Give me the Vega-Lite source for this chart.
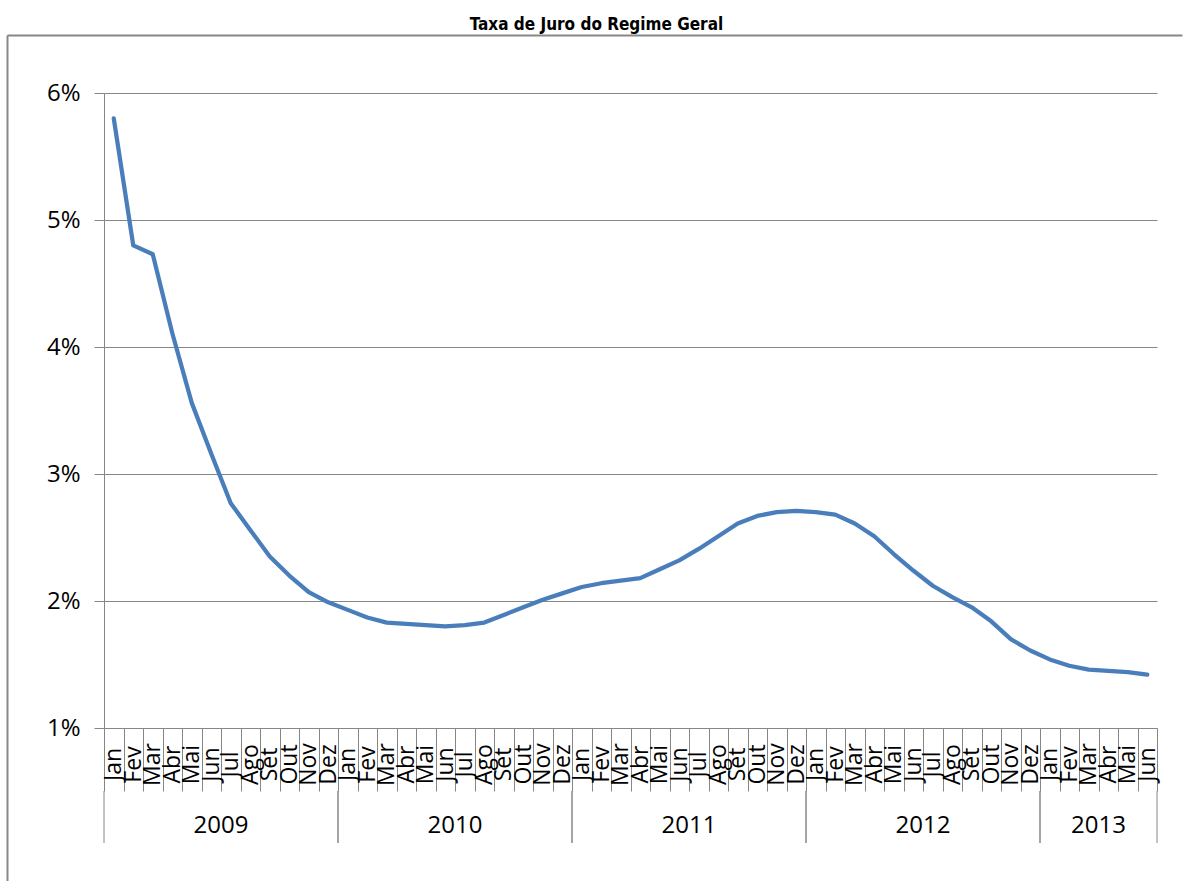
{
  "$schema": "https://vega.github.io/schema/vega-lite/v6.json",
  "padding": {"left": 7, "top": 16, "right": 0, "bottom": 0},
  "background": "white",
  "title": {
    "text": "Taxa de Juro do Regime Geral",
    "font": "Liberation Sans Narrow, DejaVu Sans Condensed, sans-serif",
    "fontSize": 17,
    "fontWeight": "bold",
    "color": "#000000",
    "anchor": "middle",
    "frame": "group",
    "dx": -34,
    "offset": 1
  },
  "datasets": {
    "taxas": [
      {"ano": "2009", "mes": "Jan", "taxa": 5.80},
      {"ano": "2009", "mes": "Fev", "taxa": 4.80},
      {"ano": "2009", "mes": "Mar", "taxa": 4.73},
      {"ano": "2009", "mes": "Abr", "taxa": 4.11},
      {"ano": "2009", "mes": "Mai", "taxa": 3.56},
      {"ano": "2009", "mes": "Jun", "taxa": 3.16},
      {"ano": "2009", "mes": "Jul", "taxa": 2.77},
      {"ano": "2009", "mes": "Ago", "taxa": 2.56},
      {"ano": "2009", "mes": "Set", "taxa": 2.35},
      {"ano": "2009", "mes": "Out", "taxa": 2.20},
      {"ano": "2009", "mes": "Nov", "taxa": 2.07},
      {"ano": "2009", "mes": "Dez", "taxa": 1.99},
      {"ano": "2010", "mes": "Jan", "taxa": 1.93},
      {"ano": "2010", "mes": "Fev", "taxa": 1.87},
      {"ano": "2010", "mes": "Mar", "taxa": 1.83},
      {"ano": "2010", "mes": "Abr", "taxa": 1.82},
      {"ano": "2010", "mes": "Mai", "taxa": 1.81},
      {"ano": "2010", "mes": "Jun", "taxa": 1.80},
      {"ano": "2010", "mes": "Jul", "taxa": 1.81},
      {"ano": "2010", "mes": "Ago", "taxa": 1.83},
      {"ano": "2010", "mes": "Set", "taxa": 1.89},
      {"ano": "2010", "mes": "Out", "taxa": 1.95},
      {"ano": "2010", "mes": "Nov", "taxa": 2.01},
      {"ano": "2010", "mes": "Dez", "taxa": 2.06},
      {"ano": "2011", "mes": "Jan", "taxa": 2.11},
      {"ano": "2011", "mes": "Fev", "taxa": 2.14},
      {"ano": "2011", "mes": "Mar", "taxa": 2.16},
      {"ano": "2011", "mes": "Abr", "taxa": 2.18},
      {"ano": "2011", "mes": "Mai", "taxa": 2.25},
      {"ano": "2011", "mes": "Jun", "taxa": 2.32},
      {"ano": "2011", "mes": "Jul", "taxa": 2.41},
      {"ano": "2011", "mes": "Ago", "taxa": 2.51},
      {"ano": "2011", "mes": "Set", "taxa": 2.61},
      {"ano": "2011", "mes": "Out", "taxa": 2.67},
      {"ano": "2011", "mes": "Nov", "taxa": 2.70},
      {"ano": "2011", "mes": "Dez", "taxa": 2.71},
      {"ano": "2012", "mes": "Jan", "taxa": 2.70},
      {"ano": "2012", "mes": "Fev", "taxa": 2.68},
      {"ano": "2012", "mes": "Mar", "taxa": 2.61},
      {"ano": "2012", "mes": "Abr", "taxa": 2.51},
      {"ano": "2012", "mes": "Mai", "taxa": 2.37},
      {"ano": "2012", "mes": "Jun", "taxa": 2.24},
      {"ano": "2012", "mes": "Jul", "taxa": 2.12},
      {"ano": "2012", "mes": "Ago", "taxa": 2.03},
      {"ano": "2012", "mes": "Set", "taxa": 1.95},
      {"ano": "2012", "mes": "Out", "taxa": 1.84},
      {"ano": "2012", "mes": "Nov", "taxa": 1.70},
      {"ano": "2012", "mes": "Dez", "taxa": 1.61},
      {"ano": "2013", "mes": "Jan", "taxa": 1.54},
      {"ano": "2013", "mes": "Fev", "taxa": 1.49},
      {"ano": "2013", "mes": "Mar", "taxa": 1.46},
      {"ano": "2013", "mes": "Abr", "taxa": 1.45},
      {"ano": "2013", "mes": "Mai", "taxa": 1.44},
      {"ano": "2013", "mes": "Jun", "taxa": 1.42}
    ],
    "vazio": []
  },
  "vconcat": [
    {
      "name": "serie_mensal",
      "width": 1053,
      "height": 635,
      "layer": [
        {
          "description": "Left edge of the chart-area border, drawn as an empty axis domain.",
          "data": {"name": "vazio"},
          "mark": {"type": "point"},
          "encoding": {
            "y": {
              "field": "v",
              "type": "quantitative",
              "scale": {"domain": [0, 1], "range": [788, -58]},
              "axis": {
                "orient": "left",
                "offset": 97,
                "title": null,
                "labels": false,
                "ticks": false,
                "grid": false,
                "domain": true,
                "domainColor": "#878787",
                "domainWidth": 2
              }
            }
          }
        },
        {
          "description": "Top edge of the chart-area border, drawn as an empty axis domain.",
          "data": {"name": "vazio"},
          "mark": {"type": "point"},
          "encoding": {
            "x": {
              "field": "v",
              "type": "quantitative",
              "scale": {"domain": [0, 1], "range": [-97, 1078]},
              "axis": {
                "orient": "top",
                "offset": 58,
                "title": null,
                "labels": false,
                "ticks": false,
                "grid": false,
                "domain": true,
                "domainColor": "#878787",
                "domainWidth": 2
              }
            }
          }
        },
        {
          "data": {"name": "taxas"},
          "transform": [
            {"calculate": "datum.mes + ' ' + datum.ano", "as": "periodo"}
          ],
          "mark": {
            "type": "line",
            "color": "#4A7EBB",
            "strokeWidth": 4.25,
            "strokeCap": "round",
            "strokeJoin": "round"
          },
          "encoding": {
            "x": {
              "field": "periodo",
              "type": "ordinal",
              "sort": null,
              "scale": {"type": "band", "paddingInner": 0, "paddingOuter": 0},
              "axis": {
                "orient": "bottom",
                "title": null,
                "labelExpr": "isString(datum.value) ? split(datum.value, ' ')[0] : ''",
                "labelAngle": -90,
                "labelAlign": "center",
                "labelBaseline": "middle",
                "labelPadding": -27,
                "labelFont": "Open Sans",
                "labelFontSize": 23,
                "labelColor": "#000000",
                "labelOverlap": false,
                "labelBound": false,
                "labelFlush": false,
                "tickBand": "extent",
                "tickSize": 63,
                "tickColor": "#868686",
                "tickWidth": 1,
                "domainColor": "#868686",
                "domainWidth": 1,
                "grid": false
              }
            },
            "y": {
              "field": "taxa",
              "type": "quantitative",
              "scale": {"domain": [1, 6], "nice": false, "zero": false},
              "axis": {
                "orient": "left",
                "title": null,
                "values": [1, 2, 3, 4, 5, 6],
                "labelExpr": "datum.value + '%'",
                "labelFont": "Open Sans",
                "labelFontSize": 24,
                "labelColor": "#000000",
                "labelPadding": 14,
                "tickSize": 10,
                "tickColor": "#868686",
                "domainColor": "#868686",
                "grid": true,
                "gridColor": "#868686",
                "gridWidth": 1
              }
            }
          }
        }
      ],
      "resolve": {
        "scale": {"x": "independent", "y": "independent"},
        "axis": {"x": "independent", "y": "independent"}
      }
    },
    {
      "name": "anos",
      "width": 1053,
      "height": 52,
      "data": {"name": "taxas"},
      "transform": [
        {"aggregate": [{"op": "count", "as": "meses"}], "groupby": ["ano"]},
        {"window": [{"op": "sum", "field": "meses", "as": "fim"}], "sort": [{"field": "ano"}], "frame": [null, 0]},
        {"calculate": "datum.fim - datum.meses", "as": "inicio"},
        {"calculate": "datum.fim - datum.meses / 2", "as": "meio"}
      ],
      "layer": [
        {
          "mark": {"type": "rule", "color": "#868686", "strokeWidth": 1},
          "encoding": {
            "x": {"field": "inicio", "type": "quantitative", "scale": {"nice": false, "zero": true}, "axis": null}
          }
        },
        {
          "mark": {"type": "rule", "color": "#868686", "strokeWidth": 1},
          "encoding": {
            "x": {"field": "fim", "type": "quantitative", "axis": null}
          }
        },
        {
          "mark": {"type": "text", "font": "Open Sans", "fontSize": 24, "color": "#000000", "baseline": "middle", "dy": 9},
          "encoding": {
            "x": {"field": "meio", "type": "quantitative", "axis": null},
            "text": {"field": "ano"}
          }
        }
      ]
    }
  ],
  "spacing": 63,
  "bounds": "flush",
  "config": {
    "view": {"stroke": null},
    "font": "Open Sans",
    "axis": {"labelFont": "Open Sans"}
  }
}
